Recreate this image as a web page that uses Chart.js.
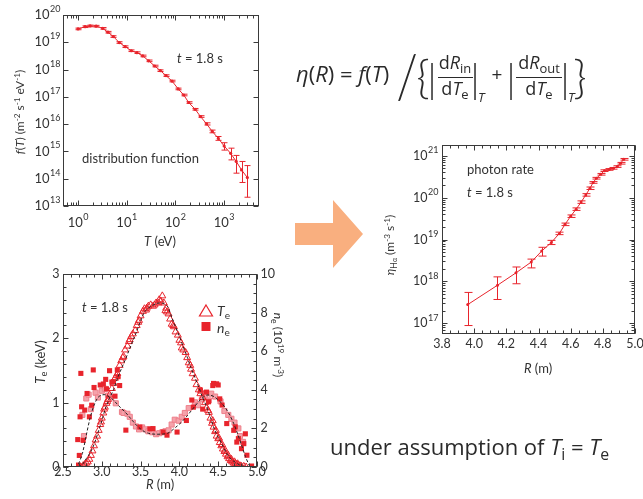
<!DOCTYPE html>
<html><head><meta charset="utf-8">
<script src="https://cdn.jsdelivr.net/npm/chart.js@4.4.1/dist/chart.umd.min.js"></script>
<style>
html,body{margin:0;padding:0;background:#fff}
body{width:643px;height:499px;position:relative;overflow:hidden;font-family:Lato,"Open Sans",sans-serif;color:#333}
canvas{position:absolute}
.a{position:absolute;white-space:nowrap;line-height:1}
sup{font-size:0.68em;vertical-align:0.5em;line-height:0}
sub{font-size:0.72em;vertical-align:-0.3em;line-height:0}
.eq{color:#2a2a2a;font-family:"Open Sans",Lato,sans-serif}
.thin{color:#2a2a2a;font-family:Lato,sans-serif;font-weight:300}
</style></head>
<body>
<canvas id="c1" width="270" height="250" style="left:0;top:0"></canvas>
<canvas id="c2" width="290" height="249" style="left:0;top:250px"></canvas>
<canvas id="c3" width="283" height="240" style="left:360px;top:140px"></canvas>
<svg style="position:absolute;left:0;top:0" width="643" height="499"><polygon points="295,223 333,223 333,200 363,234 333,268 333,245 295,245" fill="#F9AF7F"/></svg>

<!-- panel 1 texts -->
<div class="a" style="left:20px;top:112px;font-size:12px;transform:translate(-50%,-50%) rotate(-90deg)"><i>f</i>(<i>T</i>) (m<sup>-2</sup> s<sup>-1</sup> eV<sup>-1</sup>)</div>
<div class="a" style="left:160px;top:241px;font-size:13px;transform:translate(-50%,-50%)"><i>T</i> (eV)</div>
<div class="a" style="left:177px;top:58px;font-size:13px;transform:translateY(-50%)"><i>t</i> = 1.8 s</div>
<div class="a" style="left:82px;top:158px;font-size:13px;transform:translateY(-50%)">distribution function</div>

<!-- panel 2 texts -->
<div class="a" style="left:40px;top:362px;font-size:13px;transform:translate(-50%,-50%) rotate(-90deg)"><i>T</i><sub>e</sub> (keV)</div>
<div class="a" style="left:160px;top:484px;font-size:13px;transform:translate(-50%,-50%)"><i>R</i> (m)</div>
<div class="a" style="left:278px;top:345px;font-size:12px;transform:translate(-50%,-50%) rotate(90deg)"><i>n</i><sub>e</sub> (10<sup>19</sup> m<sup>-3</sup>)</div>
<div class="a" style="left:82px;top:307px;font-size:13px;transform:translateY(-50%)"><i>t</i> = 1.8 s</div>
<div class="a" style="left:217px;top:311px;font-size:14px;transform:translateY(-50%)"><i>T</i><sub>e</sub></div>
<div class="a" style="left:217px;top:328px;font-size:14px;transform:translateY(-50%)"><i>n</i><sub>e</sub></div>

<!-- panel 3 texts -->
<div class="a" style="left:390px;top:245px;font-size:12px;transform:translate(-50%,-50%) rotate(-90deg)"><i>η</i><sub>H<span style="font-size:0.8em">α</span></sub> (m<sup>-3</sup> s<sup>-1</sup>)</div>
<div class="a" style="left:538px;top:368px;font-size:13px;transform:translate(-50%,-50%)"><i>R</i> (m)</div>
<div class="a" style="left:467px;top:169px;font-size:13px;transform:translateY(-50%)">photon rate</div>
<div class="a" style="left:467px;top:192px;font-size:13px;transform:translateY(-50%)"><i>t</i> = 1.8 s</div>

<!-- equation -->
<div class="a eq" style="left:296px;top:62px;font-size:22px"><i>η</i>(<i>R</i>) = <i>f</i>(<i>T</i>)</div>
<div class="a thin" style="left:407px;top:74px;font-size:62px;transform:translate(-50%,-50%) scaleX(0.8)">/</div>
<div class="a thin" style="left:423px;top:76px;font-size:46px;transform:translate(-50%,-50%)">{</div>
<div class="a thin" style="left:580px;top:76px;font-size:46px;transform:translate(-50%,-50%)">}</div>
<div class="a thin" style="left:432px;top:78px;font-size:40px;transform:translate(-50%,-50%)">|</div>
<div class="a thin" style="left:475px;top:78px;font-size:40px;transform:translate(-50%,-50%)">|</div>
<div class="a thin" style="left:511px;top:78px;font-size:40px;transform:translate(-50%,-50%)">|</div>
<div class="a thin" style="left:565px;top:78px;font-size:40px;transform:translate(-50%,-50%)">|</div>
<div class="a eq" style="left:455px;top:53px;font-size:18px;transform:translateX(-50%)">d<i>R</i><sub>in</sub></div>
<div style="position:absolute;left:438px;top:77px;width:35px;height:1px;background:#2a2a2a"></div>
<div class="a eq" style="left:455px;top:79px;font-size:18px;transform:translateX(-50%)">d<i>T</i><sub>e</sub></div>
<div class="a eq" style="left:539px;top:53px;font-size:18px;transform:translateX(-50%)">d<i>R</i><sub>out</sub></div>
<div style="position:absolute;left:516px;top:77px;width:46px;height:1px;background:#2a2a2a"></div>
<div class="a eq" style="left:539px;top:79px;font-size:18px;transform:translateX(-50%)">d<i>T</i><sub>e</sub></div>
<div class="a eq" style="left:478px;top:91px;font-size:13px"><i>T</i></div>
<div class="a eq" style="left:568px;top:91px;font-size:13px"><i>T</i></div>
<div class="a eq" style="left:497px;top:74px;font-size:19px;transform:translate(-50%,-50%)">+</div>

<div class="a eq" style="left:330px;top:435px;font-size:22px">under assumption of <i>T</i><sub>i</sub> = <i>T</i><sub>e</sub></div>

<script>
// ================= DATA =================
// Panel 1: distribution function f(T)
const fT   = [1.0,1.39,1.77,2.35,3.2,4.1,5.3,7.0,9.3,12.4,16.2,21.3,28.2,37.4,49,64,85,114,148,187,254,327,436,571,760,1000,1360,1770,2280,3000];
const fVal = [3.09e19,3.72e19,3.98e19,3.89e19,3.24e19,2.34e19,1.62e19,9.8e18,6.9e18,4.9e18,4.17e18,3.16e18,2.09e18,1.35e18,9.1e17,6.0e17,3.8e17,1.95e17,1.17e17,6.2e16,3.5e16,1.9e16,1.02e16,5.4e15,3.0e15,1.58e15,8.5e14,4.3e14,2.1e14,1.1e14];
const fErrUpDex = [0.03,0.03,0.03,0.03,0.03,0.03,0.03,0.03,0.03,0.03,0.03,0.03,0.03,0.03,0.03,0.03,0.03,0.03,0.03,0.03,0.03,0.03,0.04,0.05,0.07,0.12,0.19,0.22,0.31,0.44];
const fErrDnDex = [0.03,0.03,0.03,0.03,0.03,0.03,0.03,0.03,0.03,0.03,0.03,0.03,0.03,0.03,0.03,0.03,0.03,0.03,0.03,0.03,0.03,0.03,0.04,0.05,0.07,0.15,0.24,0.43,0.46,0.72];
const fXTicks = [1,10,100,1000];
const fYTicks = [1e13,1e14,1e15,1e16,1e17,1e18,1e19,1e20];

// Panel 2: Te and ne profiles
const teR   = [2.73,2.76,2.78,2.80,2.82,2.84,2.86,2.88,2.90,2.92,2.94,2.96,2.98,3.00,3.02,3.04,3.06,3.08,3.10,3.13,3.15,3.17,3.20,3.23,3.25,3.28,3.30,3.33,3.36,3.38,3.40,3.43,3.45,3.48,3.50,3.53,3.55,3.58,3.60,3.63,3.66,3.70,3.73,3.76,3.78,3.80,3.82,3.84,3.86,3.88,3.90,3.93,3.95,3.98,4.00,4.03,4.05,4.08,4.10,4.12,4.15,4.17,4.20,4.22,4.25,4.28,4.30,4.33,4.35,4.38,4.40,4.42,4.44,4.46,4.48,4.50,4.52,4.54,4.56,4.58,4.60,4.62,4.64,4.66,4.68,4.70,4.72,4.74,4.76,4.78,4.80,4.83,4.86,
               4.43,4.47,4.51,4.55,4.59,4.63,4.67,4.71,4.75,2.99,3.03,3.07,3.19,3.27,3.35,3.47,3.57,3.68,3.74,3.83,3.92,4.02,4.14,4.27,4.37];
const teVal = [0.00,0.02,0.04,0.06,0.08,0.12,0.18,0.25,0.33,0.42,0.48,0.57,0.66,0.76,0.84,0.93,0.99,1.05,1.12,1.22,1.30,1.38,1.45,1.58,1.65,1.72,1.82,1.88,1.98,2.03,2.07,2.12,2.20,2.28,2.35,2.42,2.46,2.47,2.50,2.52,2.50,2.55,2.55,2.58,2.66,2.55,2.43,2.41,2.38,2.30,2.22,2.18,2.10,2.05,1.97,1.85,1.82,1.78,1.70,1.62,1.52,1.45,1.38,1.28,1.20,1.18,1.08,1.00,0.92,0.85,0.76,0.68,0.62,0.55,0.48,0.44,0.38,0.33,0.28,0.24,0.20,0.16,0.13,0.10,0.08,0.06,0.05,0.04,0.03,0.02,0.01,0.01,0.00,
               0.72,0.57,0.45,0.35,0.26,0.18,0.12,0.08,0.05,0.70,0.90,1.02,1.42,1.70,1.95,2.25,2.44,2.52,2.60,2.47,2.20,1.93,1.58,1.14,0.88];
const neR1  = [2.69,2.70,2.71,2.72,2.73,2.74,2.76,2.78,2.81,2.84,2.87,2.89,2.90,2.98,3.02,3.05,3.06,3.10,3.13,3.15,3.17,3.20,3.21,3.23,3.31,3.49,3.62,3.66,3.79,3.84,3.97,4.09,4.16,4.18,4.27,4.30,4.35,4.375,4.43,4.44,4.48,4.50,4.52,4.55,4.61,4.70,4.72,4.74,4.76,4.80,4.83,4.85,4.87,4.93];
const neVal1= [1.42,0.10,0.60,2.60,4.85,3.12,1.38,2.95,3.81,2.60,3.20,5.03,4.12,4.25,4.30,4.54,4.05,4.99,4.40,4.42,3.67,5.03,4.68,4.22,1.91,2.07,1.98,1.99,1.81,1.65,1.81,2.41,3.47,3.10,3.99,3.00,3.88,3.38,4.22,4.33,4.31,4.25,3.53,3.21,2.25,1.90,2.08,1.29,1.47,0.95,1.21,1.72,0.61,0.05];
const neR2  = [2.75,2.77,2.80,2.83,2.86,2.92,2.95,3.00,3.04,3.08,3.12,3.18,3.26,3.28,3.33,3.36,3.40,3.44,3.48,3.52,3.56,3.60,3.65,3.70,3.74,3.78,3.82,3.86,3.90,3.94,3.99,4.03,4.07,4.12,4.20,4.24,4.29,4.33,4.38,4.41,4.46,4.53,4.58,4.63,4.67,4.71,4.76,4.78,4.82];
const neVal2= [2.70,1.60,3.55,3.75,3.00,3.85,3.60,3.95,4.05,3.70,3.60,3.30,2.85,2.80,2.76,2.60,2.30,2.10,1.95,2.05,1.95,1.85,1.80,1.70,1.75,1.80,1.85,1.90,2.20,2.45,2.40,2.60,2.80,3.05,3.35,3.20,3.50,3.75,3.45,3.80,3.65,3.40,2.90,2.70,2.50,2.30,2.00,1.60,1.30];
const fitR     = [2.70,2.75,2.80,2.85,2.90,2.95,3.00,3.05,3.10,3.15,3.20,3.25,3.30,3.35,3.40,3.45,3.50,3.55,3.60,3.65,3.70,3.75,3.80,3.85,3.90,3.95,4.00,4.05,4.10,4.15,4.20,4.25,4.30,4.35,4.40,4.45,4.50,4.55,4.60,4.65,4.70,4.75,4.80,4.85,4.90];
const teFitVal = [0.00,0.04,0.13,0.22,0.35,0.53,0.72,0.92,1.07,1.20,1.37,1.52,1.66,1.81,1.96,2.11,2.27,2.41,2.47,2.51,2.54,2.55,2.54,2.49,2.33,2.18,2.03,1.87,1.71,1.54,1.39,1.24,1.08,0.94,0.77,0.59,0.46,0.35,0.23,0.14,0.09,0.05,0.02,0.005,0.00];
const neFitVal = [0.15,0.70,1.65,2.55,3.20,3.60,3.73,3.74,3.62,3.47,3.25,3.04,2.85,2.62,2.38,2.15,1.97,1.83,1.75,1.71,1.70,1.70,1.71,1.75,1.88,2.05,2.22,2.42,2.65,2.90,3.15,3.40,3.60,3.72,3.72,3.64,3.48,3.28,3.02,2.68,2.25,1.72,1.15,0.55,0.08];
const pXTicks  = [2.5,3.0,3.5,4.0,4.5,5.0];
const pYTicks  = [0,1,2,3];
const pY2Ticks = [0,2,4,6,8,10];

// Panel 3: photon rate
const etaR   = [3.96,4.145,4.26,4.355,4.42,4.48,4.53,4.565,4.60,4.634,4.665,4.694,4.72,4.74,4.76,4.787,4.81,4.84,4.866,4.89,4.91,4.93];
const etaVal = [2.8e17,8.1e17,1.6e18,2.9e18,5.3e18,8.5e18,1.4e19,2.3e19,3.6e19,5.3e19,7.8e19,1.16e20,1.67e20,2.3e20,2.9e20,3.6e20,4.4e20,4.7e20,5.0e20,5.5e20,6.6e20,8.2e20];
const etaErrUpDex = [0.29,0.20,0.14,0.07,0.09,0.05,0.03,0.03,0.03,0.03,0.03,0.03,0.03,0.02,0.02,0.02,0.02,0.02,0.02,0.02,0.02,0.02];
const etaErrDnDex = [0.50,0.34,0.26,0.14,0.12,0.05,0.03,0.03,0.03,0.03,0.03,0.03,0.03,0.02,0.02,0.02,0.02,0.02,0.02,0.02,0.02,0.02];
const eXTicks = [3.8,4.0,4.2,4.4,4.6,4.8,5.0];
const eYTicks = [1e17,1e18,1e19,1e20,1e21];

// ================= STYLE / HELPERS =================
const RED = '#e8242c', PINK = '#f5a3ab', PINKB = '#ee7f8a', FRAME = '#3a3a3a', TXT = '#333';
const FONT = 'Lato, "Open Sans", sans-serif';

function logMinors(lo, hi){ const out=[]; for(let e=Math.floor(Math.log10(lo));e<=Math.ceil(Math.log10(hi));e++){for(let m=2;m<=9;m++){const v=m*Math.pow(10,e); if(v>lo&&v<hi) out.push(v);}} return out; }
function linMinors(lo, hi, step){ const out=[]; const n=Math.round((hi-lo)/step); for(let k=0;k<=n;k++) out.push(+(lo+k*step).toFixed(6)); return out; }

function drawPow(ctx, x, y, val, align, size){
  const e = Math.round(Math.log10(val));
  ctx.font = size+'px '+FONT; const w1 = ctx.measureText('10').width;
  const es = Math.round(size*0.7);
  ctx.font = es+'px '+FONT; const w2 = ctx.measureText(String(e)).width;
  const tot = w1+w2+0.5;
  let x0 = align==='right' ? x-tot : x-tot/2;
  ctx.textAlign='left'; ctx.textBaseline='middle';
  ctx.font = size+'px '+FONT; ctx.fillText('10', x0, y);
  ctx.font = es+'px '+FONT; ctx.fillText(String(e), x0+w1+0.5, y-size*0.45);
}

function framePlugin(spec){
  return { id:'frame', afterDraw(chart){
    const ctx=chart.ctx, a=chart.chartArea;
    const L=Math.round(a.left)+0.5, R=Math.round(a.right)-0.5, T=Math.round(a.top)+0.5, B=Math.round(a.bottom)-0.5;
    ctx.save();
    ctx.strokeStyle=FRAME; ctx.lineWidth=1;
    ctx.strokeRect(L,T,R-L,B-T);
    spec.axes.forEach(ax=>{
      const sc=chart.scales[ax.id];
      const tick=(v,len)=>{
        const p=Math.round(sc.getPixelForValue(v))+0.5;
        ctx.beginPath();
        ax.sides.forEach(s=>{
          if(s==='bottom'){ctx.moveTo(p,B);ctx.lineTo(p,B-len);}
          if(s==='top'){ctx.moveTo(p,T);ctx.lineTo(p,T+len);}
          if(s==='left'){ctx.moveTo(L,p);ctx.lineTo(L+len,p);}
          if(s==='right'){ctx.moveTo(R,p);ctx.lineTo(R-len,p);}
        });
        ctx.stroke();
      };
      ax.major.forEach(v=>tick(v,ax.majLen||5));
      (ax.minor||[]).forEach(v=>tick(v,ax.minLen||3));
      ctx.fillStyle=TXT;
      ax.major.forEach(v=>{
        const p=sc.getPixelForValue(v);
        const size=ax.size||12;
        if(ax.labelSide==='bottom'){
          const y=B+ax.off;
          if(ax.pow) drawPow(ctx,p,y,v,'center',size);
          else {ctx.font=size+'px '+FONT;ctx.textAlign='center';ctx.textBaseline='middle';ctx.fillText(ax.fmt(v),p,y);}
        } else if(ax.labelSide==='left'){
          const x=L-ax.off;
          if(ax.pow) drawPow(ctx,x,p,v,'right',size);
          else {ctx.font=size+'px '+FONT;ctx.textAlign='right';ctx.textBaseline='middle';ctx.fillText(ax.fmt(v),x,p);}
        } else if(ax.labelSide==='right'){
          ctx.font=size+'px '+FONT;ctx.textAlign='left';ctx.textBaseline='middle';ctx.fillText(ax.fmt(v),R+ax.off,p);
        }
      });
    });
    if(spec.extra) spec.extra(ctx,chart);
    ctx.restore();
  }};
}

const errPlugin = { id:'err', afterDatasetsDraw(chart){
  const ctx=chart.ctx;
  chart.data.datasets.forEach(ds=>{
    if(!ds.errUp) return;
    const xs=chart.scales.x, ys=chart.scales.y;
    ctx.save(); ctx.strokeStyle=ds.borderColor; ctx.lineWidth=1;
    ds.data.forEach((p,i)=>{
      const x=Math.round(xs.getPixelForValue(p.x))+0.5;
      const y1=ys.getPixelForValue(p.y*Math.pow(10,ds.errUp[i]));
      const y2=ys.getPixelForValue(p.y/Math.pow(10,ds.errDn[i]));
      const w=ds.capW;
      ctx.beginPath(); ctx.moveTo(x,y1); ctx.lineTo(x,y2);
      ctx.moveTo(x-w,y1); ctx.lineTo(x+w,y1);
      ctx.moveTo(x-w,y2); ctx.lineTo(x+w,y2);
      ctx.stroke();
    });
    ctx.restore();
  });
}};

function hiddenAxis(extra){ return Object.assign({display:true, ticks:{display:false}, grid:{display:false}, border:{display:false}}, extra); }
const common = { responsive:false, animation:false, events:[], plugins:{legend:{display:false}, tooltip:{enabled:false}} };
const pts = (xs, ys) => xs.map((x,i)=>({x:x, y:ys[i]}));

// ================= PANEL 1 =================
new Chart(document.getElementById('c1'), {
  type:'line',
  data:{datasets:[{data:pts(fT,fVal), borderColor:RED, borderWidth:1, pointRadius:1.6, pointBackgroundColor:RED, pointBorderWidth:0, tension:0, errUp:fErrUpDex, errDn:fErrDnDex, capW:3}]},
  options:Object.assign({}, common, {
    layout:{padding:{left:0,right:11,top:15,bottom:0}},
    scales:{
      x:hiddenAxis({type:'logarithmic', min:0.49, max:5200, afterFit(s){s.height=44;}}),
      y:hiddenAxis({type:'logarithmic', min:1e13, max:1e20, afterFit(s){s.width=63;}})
    }
  }),
  plugins:[errPlugin, framePlugin({axes:[
    {id:'x', sides:['bottom','top'], major:fXTicks, minor:logMinors(0.49,5200), labelSide:'bottom', off:17, pow:true, size:13},
    {id:'y', sides:['left','right'], major:fYTicks, minor:[], labelSide:'left', off:3, pow:true, size:13}
  ]})]
});

// ================= PANEL 2 =================
new Chart(document.getElementById('c2'), {
  type:'scatter',
  data:{datasets:[
    {type:'line', data:pts(fitR,teFitVal), borderColor:'#222', borderWidth:1, borderDash:[3,2], pointRadius:0, tension:0.3, yAxisID:'y', order:0},
    {type:'line', data:pts(fitR,neFitVal), borderColor:'#222', borderWidth:1, borderDash:[3,2], pointRadius:0, tension:0.3, yAxisID:'y2', order:0},
    {data:pts(neR2,neVal2), pointStyle:'rect', pointRadius:3.6, backgroundColor:PINK, borderColor:PINKB, borderWidth:1, yAxisID:'y2', order:3},
    {data:pts(neR1,neVal1), pointStyle:'rect', pointRadius:3.6, backgroundColor:RED, borderColor:RED, borderWidth:0, yAxisID:'y2', order:2},
    {data:pts(teR,teVal), pointStyle:'triangle', pointRadius:4, backgroundColor:'rgba(255,255,255,0)', borderColor:RED, borderWidth:1, yAxisID:'y', order:1}
  ]},
  options:Object.assign({}, common, {
    layout:{padding:{left:0,right:0,top:24,bottom:0}},
    scales:{
      x:hiddenAxis({type:'linear', min:2.5, max:5.0, afterFit(s){s.height=32;}}),
      y:hiddenAxis({type:'linear', position:'left', min:0, max:3, afterFit(s){s.width=63;}}),
      y2:hiddenAxis({type:'linear', position:'right', min:0, max:10, afterFit(s){s.width=33;}})
    }
  }),
  plugins:[framePlugin({axes:[
    {id:'x', sides:['bottom','top'], major:pXTicks, minor:linMinors(2.5,5.0,0.1), labelSide:'bottom', off:5, fmt:v=>v.toFixed(1), size:12.5},
    {id:'y', sides:['left'], major:pYTicks, minor:linMinors(0,3,0.2), labelSide:'left', off:4, fmt:v=>String(v), size:12.5},
    {id:'y2', sides:['right'], major:pY2Ticks, minor:linMinors(0,10,0.5), labelSide:'right', off:4, fmt:v=>String(v), size:12.5}
  ], extra(ctx){
    // legend markers
    ctx.strokeStyle=RED; ctx.lineWidth=1.2;
    ctx.beginPath(); ctx.moveTo(206,55); ctx.lineTo(212.5,66); ctx.lineTo(199.5,66); ctx.closePath(); ctx.stroke();
    ctx.fillStyle=RED; ctx.fillRect(201.5,72,9,9);
  }})]
});

// ================= PANEL 3 =================
new Chart(document.getElementById('c3'), {
  type:'line',
  data:{datasets:[{data:pts(etaR,etaVal), borderColor:RED, borderWidth:1, pointRadius:1.5, pointBackgroundColor:RED, pointBorderWidth:0, tension:0, errUp:etaErrUpDex, errDn:etaErrDnDex, capW:4}]},
  options:Object.assign({}, common, {
    layout:{padding:{left:0,right:8,top:5,bottom:0}},
    scales:{
      x:hiddenAxis({type:'linear', min:3.8, max:5.0, afterFit(s){s.height=46;}}),
      y:hiddenAxis({type:'logarithmic', min:5.56e16, max:1.8e21, afterFit(s){s.width=82;}})
    }
  }),
  plugins:[errPlugin, framePlugin({axes:[
    {id:'x', sides:['bottom','top'], major:eXTicks, minor:linMinors(3.8,5.0,0.05), labelSide:'bottom', off:10, fmt:v=>v.toFixed(1), size:12.5},
    {id:'y', sides:['left','right'], major:eYTicks, minor:logMinors(5.56e16,1.8e21), labelSide:'left', off:4, pow:true, size:12.5}
  ]})]
});
</script>
</body></html>
